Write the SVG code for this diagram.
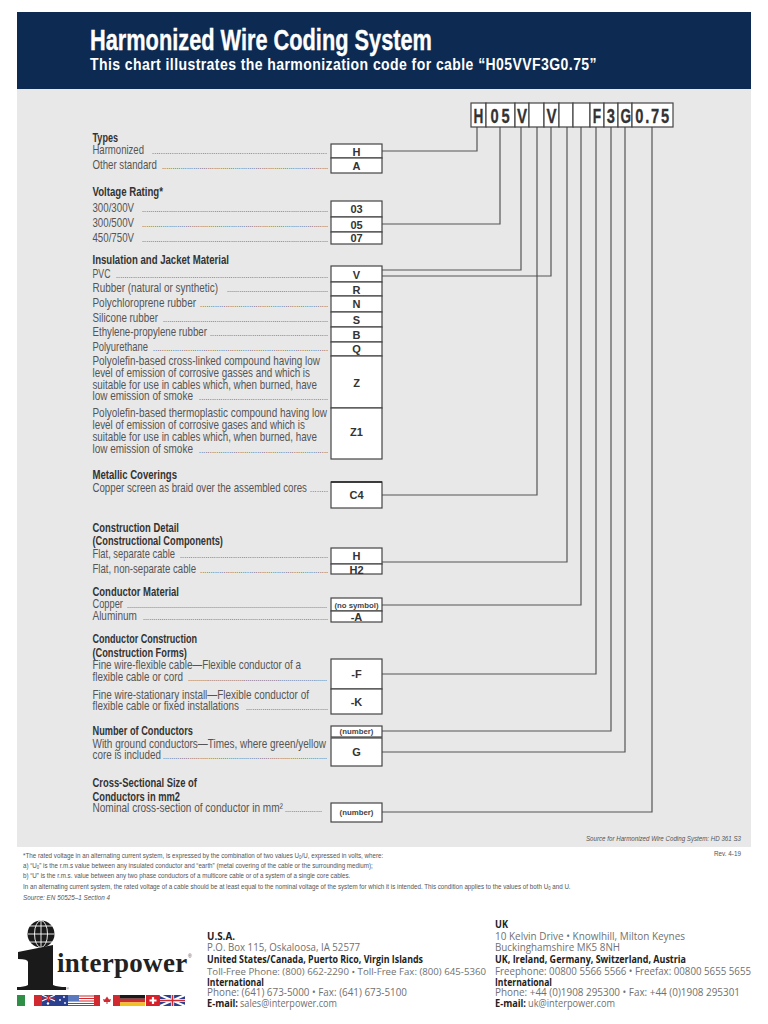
<svg xmlns="http://www.w3.org/2000/svg" width="768" height="1024" viewBox="0 0 768 1024">
<style>
text{font-family:"Liberation Sans",Arial,sans-serif;}
.hd{font-size:12.5px;font-weight:bold;fill:#333;}
.lb{font-size:12.5px;fill:#555;}
.dt{font-size:7px;fill:#333;}
.bx{fill:#fff;stroke:#444;stroke-width:1.2;}
.bt{font-size:11px;font-weight:bold;fill:#333;text-anchor:middle;}
.bs{font-size:7.8px;font-weight:bold;fill:#444;text-anchor:middle;}
.cn{fill:none;stroke:#555;stroke-width:1.2;}
.cl{font-size:21px;font-weight:bold;fill:#333;stroke:#333;stroke-width:.3;}
.ft{font-size:8px;fill:#555;}
.fi{font-size:7px;fill:#555;font-style:italic;}
.ad{font-family:"Open Sans","Noto Sans",sans-serif;font-size:10px;fill:#707070;}
.ab{font-family:"Open Sans","Noto Sans",sans-serif;font-size:10px;font-weight:bold;fill:#222;}
.fg{stroke:none;}
</style>
<rect x="0" y="0" width="768" height="1024" fill="#fff"/>
<rect id="panel" x="17" y="89" width="734" height="758" fill="#e8e8e8"/>
<g id="banner">
<rect x="17" y="12" width="734" height="77" fill="#0d2b52"/>
<text transform="translate(90,49.5) scale(.82,1)" font-size="29" font-weight="bold" fill="#fff" stroke="#fff" stroke-width=".35" textLength="417" lengthAdjust="spacingAndGlyphs">Harmonized Wire Coding System</text>
<text transform="translate(90,70) scale(.85,1)" font-size="16.5" font-weight="bold" fill="#fff" textLength="596" lengthAdjust="spacing">This chart illustrates the harmonization code for cable “H05VVF3G0.75”</text>
</g>

<g id="connectors" class="cn">
<path class="cn" d="M382 151H477V127"/>
<path class="cn" d="M382 224H500V127"/>
<path class="cn" d="M382 270H521V127"/>
<path class="cn" d="M382 276H551V127"/>
<path class="cn" d="M382 495H537V127"/>
<path class="cn" d="M382 562H567V127"/>
<path class="cn" d="M382 605H581V127"/>
<path class="cn" d="M382 674H596V127"/>
<path class="cn" d="M382 731H611V127"/>
<path class="cn" d="M382 752H625V127"/>
<path class="cn" d="M382 812H652V127"/>
</g>

<g id="code">
<rect class="bx" x="471" y="103" width="15" height="24"/>
<rect class="bx" x="486" y="103" width="29" height="24"/>
<rect class="bx" x="515" y="103" width="14" height="24"/>
<rect class="bx" x="529" y="103" width="15" height="24"/>
<rect class="bx" x="544" y="103" width="15" height="24"/>
<rect class="bx" x="559" y="103" width="14" height="24"/>
<rect class="bx" x="573" y="103" width="17" height="24"/>
<rect class="bx" x="590" y="103" width="14" height="24"/>
<rect class="bx" x="604" y="103" width="14" height="24"/>
<rect class="bx" x="618" y="103" width="14" height="24"/>
<rect class="bx" x="632" y="103" width="41" height="24"/>
<text class="cl" transform="translate(473.5,123) scale(.65,1)">H</text>
<text class="cl" transform="translate(490.5,123) scale(.7,1)" letter-spacing="4">05</text>
<text class="cl" transform="translate(517,123) scale(.72,1)">V</text>
<text class="cl" transform="translate(546.5,123) scale(.72,1)">V</text>
<text class="cl" transform="translate(592.8,123) scale(.65,1)">F</text>
<text class="cl" transform="translate(606.8,123) scale(.7,1)">3</text>
<text class="cl" transform="translate(620.5,123) scale(.65,1)">G</text>
<text class="cl" transform="translate(635.3,123) scale(.7,1)" letter-spacing="2.5">0.75</text>
</g>

<g id="types">
<g transform="scale(.8,1)">
<text class="hd" x="115.6" y="142" textLength="31.9" lengthAdjust="spacingAndGlyphs">Types</text>
<text class="lb" x="115.6" y="154" textLength="64.4" lengthAdjust="spacingAndGlyphs">Harmonized</text>
<text class="lb" x="115.6" y="169" textLength="80.6" lengthAdjust="spacingAndGlyphs">Other standard</text>
</g>
<text class="dt" x="152" y="154" textLength="175">................................................................................</text>
<text class="dt" x="162" y="169" textLength="166">................................................................................</text>
<rect class="bx" x="331" y="144" width="51" height="14"/><text class="bt" x="356.5" y="155.5">H</text>
<rect class="bx" x="331" y="158" width="51" height="15"/><text class="bt" x="356.5" y="170">A</text>
</g>

<g id="voltage">
<g transform="scale(.8,1)">
<text class="hd" x="115.6" y="196" textLength="88.1" lengthAdjust="spacingAndGlyphs">Voltage Rating*</text>
<text class="lb" x="115.6" y="212" textLength="51.9" lengthAdjust="spacingAndGlyphs">300/300V</text>
<text class="lb" x="115.6" y="227" textLength="51.9" lengthAdjust="spacingAndGlyphs">300/500V</text>
<text class="lb" x="115.6" y="242" textLength="51.9" lengthAdjust="spacingAndGlyphs">450/750V</text>
</g>
<text class="dt" x="142" y="212" textLength="186">..........................................................................................</text>
<text class="dt" x="142" y="227" textLength="186">..........................................................................................</text>
<text class="dt" x="142" y="242" textLength="186">..........................................................................................</text>
<rect class="bx" x="331" y="201" width="51" height="16"/><text class="bt" x="356.5" y="213">03</text>
<rect class="bx" x="331" y="217" width="51" height="15"/><text class="bt" x="356.5" y="229">05</text>
<rect class="bx" x="331" y="232" width="51" height="12"/><text class="bt" x="356.5" y="242">07</text>
</g>

<g id="insulation">
<g transform="scale(.8,1)">
<text class="hd" x="115.6" y="264" textLength="170.6" lengthAdjust="spacingAndGlyphs">Insulation and Jacket Material</text>
<text class="lb" x="115.6" y="278" textLength="22.5" lengthAdjust="spacingAndGlyphs">PVC</text>
<text class="lb" x="115.6" y="292" textLength="156.9" lengthAdjust="spacingAndGlyphs">Rubber (natural or synthetic)</text>
<text class="lb" x="115.6" y="307" textLength="129.4" lengthAdjust="spacingAndGlyphs">Polychloroprene rubber</text>
<text class="lb" x="115.6" y="322" textLength="81.9" lengthAdjust="spacingAndGlyphs">Silicone rubber</text>
<text class="lb" x="115.6" y="336" textLength="143.1" lengthAdjust="spacingAndGlyphs">Ethylene-propylene rubber</text>
<text class="lb" x="115.6" y="351" textLength="69.4" lengthAdjust="spacingAndGlyphs">Polyurethane</text>
<text class="lb" x="115.6" y="365" textLength="284.4" lengthAdjust="spacingAndGlyphs">Polyolefin-based cross-linked compound having low</text>
<text class="lb" x="115.6" y="377" textLength="271.9" lengthAdjust="spacingAndGlyphs">level of emission of corrosive gasses and which is</text>
<text class="lb" x="115.6" y="389" textLength="280.6" lengthAdjust="spacingAndGlyphs">suitable for use in cables which, when burned, have</text>
<text class="lb" x="115.6" y="400" textLength="125.6" lengthAdjust="spacingAndGlyphs">low emission of smoke</text>
<text class="lb" x="115.6" y="417" textLength="293.1" lengthAdjust="spacingAndGlyphs">Polyolefin-based thermoplastic compound having low</text>
<text class="lb" x="115.6" y="429" textLength="265.6" lengthAdjust="spacingAndGlyphs">level of emission of corrosive gases and which is</text>
<text class="lb" x="115.6" y="441" textLength="280.6" lengthAdjust="spacingAndGlyphs">suitable for use in cables which, when burned, have</text>
<text class="lb" x="115.6" y="453" textLength="125.6" lengthAdjust="spacingAndGlyphs">low emission of smoke</text>
</g>
<text class="dt" x="116" y="278" textLength="212">....................................................................................................</text>
<text class="dt" x="227" y="292" textLength="101">..................................................</text>
<text class="dt" x="200" y="307" textLength="128">............................................................</text>
<text class="dt" x="163" y="322" textLength="165">................................................................................</text>
<text class="dt" x="210" y="336" textLength="118">........................................................</text>
<text class="dt" x="153" y="351" textLength="175">................................................................................</text>
<text class="dt" x="199" y="400" textLength="129">............................................................</text>
<text class="dt" x="199" y="453" textLength="129">............................................................</text>
<rect class="bx" x="331" y="266" width="51" height="16"/><text class="bt" x="356.5" y="279">V</text>
<rect class="bx" x="331" y="282" width="51" height="14"/><text class="bt" x="356.5" y="293.5">R</text>
<rect class="bx" x="331" y="296" width="51" height="16"/><text class="bt" x="356.5" y="308">N</text>
<rect class="bx" x="331" y="312" width="51" height="15"/><text class="bt" x="356.5" y="323.5">S</text>
<rect class="bx" x="331" y="327" width="51" height="15"/><text class="bt" x="356.5" y="338.5">B</text>
<rect class="bx" x="331" y="342" width="51" height="14"/><text class="bt" x="356.5" y="353">Q</text>
<rect class="bx" x="331" y="356" width="51" height="52"/><text class="bt" x="356.5" y="387">Z</text>
<rect class="bx" x="331" y="408" width="51" height="51"/><text class="bt" x="356.5" y="436">Z1</text>
</g>

<g id="metallic">
<g transform="scale(.8,1)">
<text class="hd" x="115.6" y="479" textLength="105.6" lengthAdjust="spacingAndGlyphs">Metallic Coverings</text>
<text class="lb" x="115.6" y="492" textLength="268.1" lengthAdjust="spacingAndGlyphs">Copper screen as braid over the assembled cores</text>
</g>
<text class="dt" x="310" y="492" textLength="18">........</text>
<rect class="bx" x="331" y="482" width="51" height="26"/><path d="M331 482H382" stroke="#222" stroke-width="1.6"/><text class="bt" x="356.5" y="499">C4</text>
</g>

<g id="construction-detail">
<g transform="scale(.8,1)">
<text class="hd" x="115.6" y="532" textLength="108.1" lengthAdjust="spacingAndGlyphs">Construction Detail</text>
<text class="hd" x="115.6" y="545" textLength="163.1" lengthAdjust="spacingAndGlyphs">(Constructional Components)</text>
<text class="lb" x="115.6" y="558" textLength="103.1" lengthAdjust="spacingAndGlyphs">Flat, separate cable</text>
<text class="lb" x="115.6" y="573" textLength="129.4" lengthAdjust="spacingAndGlyphs">Flat, non-separate cable</text>
</g>
<text class="dt" x="180" y="558" textLength="148">......................................................................</text>
<text class="dt" x="200" y="573" textLength="128">............................................................</text>
<rect class="bx" x="331" y="548" width="51" height="16"/><text class="bt" x="356.5" y="560">H</text>
<rect class="bx" x="331" y="564" width="51" height="10"/><text class="bt" x="356.5" y="573.5">H2</text>
</g>

<g id="conductor-material">
<g transform="scale(.8,1)">
<text class="hd" x="115.6" y="596" textLength="108.1" lengthAdjust="spacingAndGlyphs">Conductor Material</text>
<text class="lb" x="115.6" y="608" textLength="38.1" lengthAdjust="spacingAndGlyphs">Copper</text>
<text class="lb" x="115.6" y="620" textLength="55.6" lengthAdjust="spacingAndGlyphs">Aluminum</text>
</g>
<text class="dt" x="127" y="608" textLength="200">....................................................................................................</text>
<text class="dt" x="143" y="620" textLength="185">..........................................................................................</text>
<rect class="bx" x="331" y="598" width="51" height="13"/><text class="bs" x="356.5" y="607.5">(no symbol)</text>
<rect class="bx" x="331" y="611" width="51" height="11"/><text class="bt" x="356.5" y="620.5">-A</text>
</g>

<g id="conductor-construction">
<g transform="scale(.8,1)">
<text class="hd" x="115.6" y="643" textLength="130.6" lengthAdjust="spacingAndGlyphs">Conductor Construction</text>
<text class="hd" x="115.6" y="657" textLength="118.1" lengthAdjust="spacingAndGlyphs">(Construction Forms)</text>
<text class="lb" x="115.6" y="669" textLength="260.6" lengthAdjust="spacingAndGlyphs">Fine wire-flexible cable—Flexible conductor of a</text>
<text class="lb" x="115.6" y="681" textLength="113.1" lengthAdjust="spacingAndGlyphs">flexible cable or cord</text>
<text class="lb" x="115.6" y="699" textLength="270.6" lengthAdjust="spacingAndGlyphs">Fine wire-stationary install—Flexible conductor of</text>
<text class="lb" x="115.6" y="710" textLength="183.1" lengthAdjust="spacingAndGlyphs">flexible cable or fixed installations</text>
</g>
<text class="dt" x="188" y="681" textLength="139">......................................................................</text>
<text class="dt" x="246" y="710" textLength="82">........................................</text>
<rect class="bx" x="331" y="659" width="51" height="30"/><text class="bt" x="356.5" y="678">-F</text>
<rect class="bx" x="331" y="689" width="51" height="25"/><text class="bt" x="356.5" y="706">-K</text>
</g>

<g id="number-of-conductors">
<g transform="scale(.8,1)">
<text class="hd" x="115.6" y="735" textLength="125.6" lengthAdjust="spacingAndGlyphs">Number of Conductors</text>
<text class="lb" x="115.6" y="748" textLength="291.9" lengthAdjust="spacingAndGlyphs">With ground conductors—Times, where green/yellow</text>
<text class="lb" x="115.6" y="759" textLength="85.6" lengthAdjust="spacingAndGlyphs">core is included</text>
</g>
<text class="dt" x="163" y="759" textLength="164">................................................................................</text>
<rect class="bx" x="331" y="726" width="51" height="11"/><text class="bs" x="356.5" y="733.5">(number)</text>
<rect class="bx" x="331" y="738" width="51" height="28"/><text class="bt" x="356.5" y="755.5">G</text>
</g>

<g id="cross-section">
<g transform="scale(.8,1)">
<text class="hd" x="115.6" y="787" textLength="130.6" lengthAdjust="spacingAndGlyphs">Cross-Sectional Size of</text>
<text class="hd" x="115.6" y="801" textLength="109.4" lengthAdjust="spacingAndGlyphs">Conductors in mm2</text>
<text class="lb" x="115.6" y="812" textLength="238.1" lengthAdjust="spacingAndGlyphs">Nominal cross-section of conductor in mm²</text>
</g>
<text class="dt" x="285" y="812" textLength="37">..................</text>
<rect class="bx" x="331" y="803" width="51" height="19"/><text class="bs" x="356.5" y="815">(number)</text>
</g>

<g id="notes">
<text class="fi" x="586" y="841" textLength="155" lengthAdjust="spacingAndGlyphs">Source for Harmonized Wire Coding System: HD 361 S3</text>
<text class="ft" x="714" y="856" textLength="27" lengthAdjust="spacingAndGlyphs">Rev. 4-19</text>
<g transform="scale(.78,1)">
<text class="ft" x="29.5" y="858">*The rated voltage in an alternating current system, is expressed by the combination of two values U<tspan font-size="5.5" dy="1.5">0</tspan><tspan dy="-1.5">/U, expressed in volts, where:</tspan></text>
<text class="ft" x="29.5" y="868">a) “U<tspan font-size="5.5" dy="1.5">0</tspan><tspan dy="-1.5">” is the r.m.s value between any insulated conductor and “earth” (metal covering of the cable or the surrounding medium);</tspan></text>
<text class="ft" x="29.5" y="878">b) “U” is the r.m.s. value between any two phase conductors of a multicore cable or of a system of a single core cables.</text>
<text class="ft" x="29.5" y="889">In an alternating current system, the rated voltage of a cable should be at least equal to the nominal voltage of the system for which it is intended. This condition applies to the values of both U<tspan font-size="5.5" dy="1.5">0</tspan><tspan dy="-1.5"> and U.</tspan></text>
</g>
<text class="fi" x="23" y="900" textLength="87" lengthAdjust="spacingAndGlyphs">Source: EN 50525–1 Section 4</text>
</g>

<g id="logo">
<circle cx="41" cy="934" r="13.5" fill="#1a1a1a"/>
<g fill="none" stroke="#fff" stroke-width="0.9">
<ellipse cx="41" cy="934" rx="6.5" ry="13.5"/>
<path d="M41 920.5V947.5M28 934H54.5M30 926H52M30 942H52"/>
</g>
<path fill="#1a1a1a" d="M53 945V985Q58 987 66 987V990H17V987Q24 987 28 985V962Q28 959 18 959V952Z"/>
<text x="57" y="972" font-size="27" font-weight="bold" fill="#222" letter-spacing=".3" style="font-family:'Liberation Serif',serif">interpower</text>
<text x="188" y="958" font-size="5" fill="#444">®</text>
<text x="66" y="990" font-size="4" fill="#444">®</text>
<g class="fg">
<rect x="17" y="995" width="8" height="11" fill="#2f8f46"/>
<rect x="34" y="995" width="8" height="11" fill="#d02a30"/>
<rect x="42" y="995" width="26" height="11" fill="#2b3f8f"/>
<path d="M42 995L55 1001M55 995L42 1001" stroke="#fff" stroke-width="1.2"/>
<path d="M48.5 995V1001M42 998H55" stroke="#d02a30" stroke-width="1.2"/>
<circle cx="60" cy="1000" r="0.9" fill="#fff"/><circle cx="64" cy="997" r="0.9" fill="#fff"/><circle cx="65" cy="1003" r="0.9" fill="#fff"/><circle cx="48" cy="1003.5" r="1.2" fill="#fff"/>
<rect x="68" y="995" width="26" height="11" fill="#fff"/>
<path d="M68 996H94M68 998.5H94M68 1001H94M68 1003.5H94M68 1005.5H94" stroke="#d02a30" stroke-width="1.1"/>
<rect x="68" y="995" width="11" height="6" fill="#5b79bf"/>
<rect x="94" y="995" width="6" height="11" fill="#d02a30"/>
<rect x="100" y="995" width="13" height="11" fill="#fff"/>
<path d="M107 996.5L109 999.5L111 999L110 1002H107.5V1004H106.5V1002H104L103 999L105 999.5Z" fill="#d02a30"/>
<rect x="113" y="995" width="7" height="11" fill="#d02a30"/>
<rect x="120" y="995" width="25" height="3.7" fill="#1a1a1a"/>
<rect x="120" y="998.7" width="25" height="3.7" fill="#d02a30"/>
<rect x="120" y="1002.4" width="25" height="3.6" fill="#f2c21a"/>
<rect x="146" y="995" width="14" height="11" fill="#d8202a"/>
<path d="M153 997V1004M149.5 1000.5H156.5" stroke="#fff" stroke-width="2.2"/>
<rect x="160" y="995" width="25" height="11" fill="#2b3f8f"/>
<path d="M160 995L185 1006M185 995L160 1006" stroke="#fff" stroke-width="2"/>
<path d="M172.5 995V1006M160 1000.5H185" stroke="#fff" stroke-width="3.2"/>
<path d="M172.5 995V1006M160 1000.5H185" stroke="#d02a30" stroke-width="1.6"/>
</g>
</g>

<g id="contact-usa">
<text class="ab" x="207" y="940" textLength="28" lengthAdjust="spacingAndGlyphs">U.S.A.</text>
<text class="ad" x="207" y="951" textLength="153" lengthAdjust="spacingAndGlyphs">P.O. Box 115, Oskaloosa, IA 52577</text>
<text class="ab" x="207" y="963" textLength="216" lengthAdjust="spacingAndGlyphs">United States/Canada, Puerto Rico, Virgin Islands</text>
<text class="ad" style="font-size:9.6px" x="207" y="975" textLength="279" lengthAdjust="spacingAndGlyphs">Toll-Free Phone: (800) 662-2290 • Toll-Free Fax: (800) 645-5360</text>
<text class="ab" x="207" y="986" textLength="57" lengthAdjust="spacingAndGlyphs">International</text>
<text class="ad" x="207" y="996" textLength="200" lengthAdjust="spacingAndGlyphs">Phone: (641) 673-5000 • Fax: (641) 673-5100</text>
<text class="ab" x="207" y="1007" textLength="31" lengthAdjust="spacingAndGlyphs">E-mail:</text>
<text class="ad" x="240" y="1007" textLength="97" lengthAdjust="spacingAndGlyphs">sales@interpower.com</text>
</g>

<g id="contact-uk">
<text class="ab" x="495" y="928" textLength="13" lengthAdjust="spacingAndGlyphs">UK</text>
<text class="ad" x="495" y="940" textLength="190" lengthAdjust="spacingAndGlyphs">10 Kelvin Drive • Knowlhill, Milton Keynes</text>
<text class="ad" x="495" y="951" textLength="125" lengthAdjust="spacingAndGlyphs">Buckinghamshire MK5 8NH</text>
<text class="ab" x="495" y="963" textLength="191" lengthAdjust="spacingAndGlyphs">UK, Ireland, Germany, Switzerland, Austria</text>
<text class="ad" x="495" y="975" textLength="256" lengthAdjust="spacingAndGlyphs">Freephone: 00800 5566 5566 • Freefax: 00800 5655 5655</text>
<text class="ab" x="495" y="986" textLength="57" lengthAdjust="spacingAndGlyphs">International</text>
<text class="ad" x="495" y="996" textLength="245" lengthAdjust="spacingAndGlyphs">Phone: +44 (0)1908 295300 • Fax: +44 (0)1908 295301</text>
<text class="ab" x="495" y="1007" textLength="31" lengthAdjust="spacingAndGlyphs">E-mail:</text>
<text class="ad" x="528" y="1007" textLength="87" lengthAdjust="spacingAndGlyphs">uk@interpower.com</text>
</g>
</svg>
